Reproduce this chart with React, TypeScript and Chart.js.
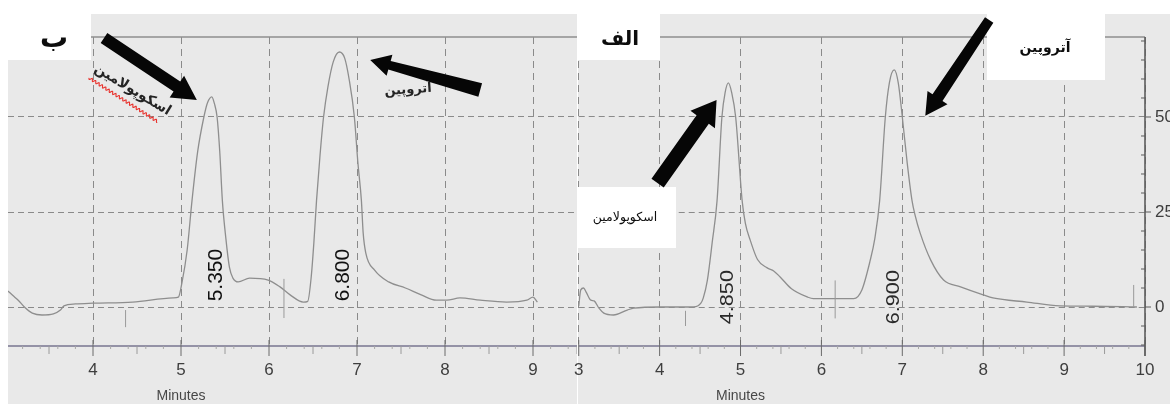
import React, { useEffect, useRef } from "react";
import { Chart, registerables } from "chart.js";

Chart.register(...registerables);

// Shared axes of both runs
const responseRange = [-10.26, 71.05];
const responseTicks = [0, 25, 50];

// Run ب (left panel): retention time in minutes vs detector response
const timeRangeB = [3.034, 9.5];
const minuteTicksB = [4, 5, 6, 7, 8, 9];
const timeB = [
  3.034, 3.09, 3.15, 3.22, 3.31, 3.42, 3.55, 3.63, 3.67, 3.8, 4.0, 4.45, 4.91, 4.97,
  5.01, 5.07, 5.125, 5.19, 5.26, 5.3, 5.35, 5.38, 5.41, 5.44, 5.47, 5.51, 5.55, 5.59, 5.65, 5.78, 5.99, 6.125, 6.24, 6.39,
  6.44, 6.48, 6.51, 6.54, 6.58, 6.62, 6.67, 6.73, 6.8, 6.86, 6.91, 6.97, 7.01, 7.05, 7.07, 7.1, 7.2, 7.36, 7.55, 7.73,
  7.9, 8.02, 8.17, 8.4, 8.7, 8.93, 9.0, 9.05,
];
const signalB = [
  4.2, 3.0, 1.8, 0.0, -1.6, -2.1, -1.8, -0.8, 0.3, 0.8, 1.0, 1.3, 2.4, 2.6,
  6.3, 15, 28, 41, 50, 53.7, 55.3, 53.5, 50, 41, 28, 18, 10.5, 7.6, 6.6, 7.6, 7.1, 5.3, 3.2, 1.3,
  1.5, 8, 17, 28, 40, 50, 58, 64.5, 67.1, 65.5, 60, 50, 38, 28, 19.5, 14.2, 9.7, 6.6, 5.0, 3.2,
  1.8, 1.8, 2.4, 1.8, 1.3, 1.8, 2.6, 1.3,
];
const peakTimeB = [5.35, 6.8];
const peakLabelB = ["5.350", "6.800"];
const eventTimeB = [4.37, 6.17];
const eventTopB = [-0.8, 7.4];
const eventBottomB = [-5.3, -2.9];

// Run الف (right panel)
const timeRangeA = [3, 10];
const minuteTicksA = [3, 4, 5, 6, 7, 8, 9, 10];
const timeA = [
  3.0, 3.025, 3.06, 3.09, 3.15, 3.19, 3.25, 3.31, 3.43, 3.6, 3.68, 4.01, 4.42, 4.51, 4.54,
  4.59, 4.65, 4.71, 4.77, 4.81, 4.85, 4.89, 4.94, 5.02, 5.06, 5.12, 5.21, 5.33, 5.41, 5.49, 5.63, 5.83, 5.9,
  6.4, 6.5, 6.6, 6.66, 6.72, 6.79, 6.84, 6.9, 6.95, 7.0, 7.06, 7.12, 7.16, 7.22, 7.35, 7.51, 7.72,
  8.0, 8.12, 8.54, 8.95, 9.36, 9.9,
];
const signalA = [
  0.3, 4.5, 5.0, 4.0, 1.8, 1.6, -0.3, -1.6, -2.1, -0.8, -0.3, 0.0, 0.0, 1.0, 2.4,
  7, 17, 28, 50, 56.5, 59, 56.5, 50, 28, 22, 17.6, 12.5, 10.3, 9.5, 7.9, 4.8, 2.6, 2.2,
  2.2, 4.5, 12, 18, 28, 50, 59, 62.4, 59, 50, 38, 28, 24, 19.5, 12.4, 7.1, 5.3,
  3.2, 2.4, 1.3, 0.3, 0.2, 0.0,
];
const peakTimeA = [4.85, 6.9];
const peakLabelA = ["4.850", "6.900"];
const eventTimeA = [4.32, 6.17, 9.86];
const eventTopA = [-1, 7, 5.8];
const eventBottomA = [-5, -3, 0];

const SHEET = "#e9e9e9";
const GRID = "#8a8a8a";
const AXIS = "#77758f";
const PERSIAN = '"DejaVu Sans", "Noto Sans", sans-serif';

type Pt = [number, number];
type Box = { x: number; y: number; w: number; h: number; text: string; font: string; tx: number; ty: number };
type Arrow = { from: Pt; to: Pt; tail: number; neck: number; head: number; headLen: number };
type Tag = { at: Pt; text: string; font: string; angle: number };

type Sheet = {
  id: string;
  offsetX: number; // page x of the canvas
  sheetLeft: number;
  sheetRight: number;
  rightAxis: boolean;
  peakTimes: number[];
  peakLabels: string[];
  peakLevel: number;
  peakShift: number;
  peakFont: string;
  peakStretch: number;
  peakColor: string;
  events: { t: number[]; top: number[]; bottom: number[] };
  boxes: Box[]; // page coordinates, ty is the text baseline
  tags: Tag[]; // data coordinates
  arrows: Arrow[]; // data coordinates
  squiggle?: { from: Pt; to: Pt };
};

function drawArrow(ctx: CanvasRenderingContext2D, x1: number, y1: number, x2: number, y2: number, a: Arrow) {
  const len = Math.hypot(x2 - x1, y2 - y1);
  const ux = (x2 - x1) / len;
  const uy = (y2 - y1) / len;
  const nx = -uy;
  const ny = ux;
  const bx = x2 - ux * a.headLen;
  const by = y2 - uy * a.headLen;
  ctx.beginPath();
  ctx.moveTo(x1 + (nx * a.tail) / 2, y1 + (ny * a.tail) / 2);
  ctx.lineTo(bx + (nx * a.neck) / 2, by + (ny * a.neck) / 2);
  ctx.lineTo(bx + (nx * a.head) / 2, by + (ny * a.head) / 2);
  ctx.lineTo(x2, y2);
  ctx.lineTo(bx - (nx * a.head) / 2, by - (ny * a.head) / 2);
  ctx.lineTo(bx - (nx * a.neck) / 2, by - (ny * a.neck) / 2);
  ctx.lineTo(x1 - (nx * a.tail) / 2, y1 - (ny * a.tail) / 2);
  ctx.closePath();
  ctx.fill();
}

function sheetPlugin(s: Sheet) {
  return {
    id: s.id,
    beforeDraw(chart: any) {
      const { ctx, height } = chart;
      ctx.save();
      ctx.fillStyle = SHEET;
      ctx.fillRect(s.sheetLeft, 14, s.sheetRight - s.sheetLeft, height - 14);
      ctx.restore();
    },
    afterDraw(chart: any) {
      const { ctx, chartArea: a } = chart;
      const xs = chart.scales.x;
      const ys = chart.scales.y;
      const X = (t: number) => xs.getPixelForValue(t);
      const Y = (v: number) => ys.getPixelForValue(v);
      const line = (x1: number, y1: number, x2: number, y2: number) => {
        ctx.beginPath();
        ctx.moveTo(x1, y1);
        ctx.lineTo(x2, y2);
        ctx.stroke();
      };
      ctx.save();

      // frame top
      ctx.strokeStyle = "#8e8e8e";
      ctx.lineWidth = 1.6;
      line(a.left, a.top, a.right, a.top);

      // time axis with minute / half / fifth ticks
      ctx.strokeStyle = AXIS;
      ctx.lineWidth = 1.6;
      line(a.left, a.bottom, a.right, a.bottom);
      ctx.lineWidth = 1;
      for (let k = Math.ceil(xs.min * 10); k <= Math.floor(xs.max * 10); k++) {
        const px = X(k / 10);
        if (k % 10 === 0) {
          ctx.strokeStyle = "#6a6a6a";
          line(px, a.bottom - 6, px, a.bottom + 10);
        } else if (k % 5 === 0) {
          ctx.strokeStyle = "#9a9a9a";
          line(px, a.bottom, px, a.bottom + 8);
        } else if (k % 2 === 0) {
          ctx.strokeStyle = "#a8a8a8";
          line(px, a.bottom, px, a.bottom + 3);
        }
      }

      // response axis
      if (s.rightAxis) {
        ctx.strokeStyle = "#5c5c5c";
        ctx.lineWidth = 1.6;
        line(a.right, a.top, a.right, a.bottom + 10);
        ctx.lineWidth = 1;
        for (let v = -10; v <= 70; v += 5) {
          const py = Y(v);
          if (v % 25 === 0) line(a.right, py, a.right + 6, py);
          else line(a.right - 4, py, a.right, py);
        }
      }

      // integration event marks on the baseline
      ctx.strokeStyle = "#9a9a9a";
      ctx.lineWidth = 1;
      s.events.t.forEach((t, i) => line(X(t), Y(s.events.top[i]), X(t), Y(s.events.bottom[i])));

      // retention-time labels
      ctx.fillStyle = s.peakColor;
      ctx.font = s.peakFont;
      ctx.textAlign = "center";
      ctx.textBaseline = "middle";
      s.peakTimes.forEach((t, i) => {
        ctx.save();
        ctx.translate(X(t) + s.peakShift, Y(s.peakLevel));
        ctx.rotate(-Math.PI / 2);
        ctx.scale(s.peakStretch, 1);
        ctx.fillText(s.peakLabels[i], 0, 0);
        ctx.restore();
      });

      // x caption
      ctx.fillStyle = "#474747";
      ctx.font = '14px "Liberation Sans", Arial, sans-serif';
      ctx.textBaseline = "alphabetic";
      ctx.fillText("Minutes", X(5), 400);

      // white label boxes
      ctx.direction = "rtl";
      s.boxes.forEach((b) => {
        ctx.fillStyle = "#ffffff";
        ctx.fillRect(b.x - s.offsetX, b.y, b.w, b.h);
        ctx.fillStyle = "#0d0d0d";
        ctx.font = b.font;
        ctx.textAlign = "center";
        ctx.textBaseline = "alphabetic";
        ctx.fillText(b.text, b.tx - s.offsetX, b.ty);
      });

      // compound names written on the sheet
      s.tags.forEach((g) => {
        ctx.save();
        ctx.translate(X(g.at[0]), Y(g.at[1]));
        ctx.rotate((g.angle * Math.PI) / 180);
        ctx.fillStyle = "#242424";
        ctx.font = g.font;
        ctx.textAlign = "center";
        ctx.textBaseline = "middle";
        ctx.fillText(g.text, 0, 0);
        ctx.restore();
      });

      if (s.squiggle) {
        const x1 = X(s.squiggle.from[0]);
        const y1 = Y(s.squiggle.from[1]);
        const x2 = X(s.squiggle.to[0]);
        const y2 = Y(s.squiggle.to[1]);
        const len = Math.hypot(x2 - x1, y2 - y1);
        const ux = (x2 - x1) / len;
        const uy = (y2 - y1) / len;
        ctx.strokeStyle = "#e8332e";
        ctx.lineWidth = 1.1;
        ctx.beginPath();
        for (let d = 0; d <= len; d += 0.5) {
          const w = 1.3 * Math.sin((d * Math.PI) / 2);
          const px = x1 + ux * d - uy * w;
          const py = y1 + uy * d + ux * w;
          if (d === 0) ctx.moveTo(px, py);
          else ctx.lineTo(px, py);
        }
        ctx.stroke();
      }

      // arrows
      ctx.fillStyle = "#060606";
      s.arrows.forEach((ar) => drawArrow(ctx, X(ar.from[0]), Y(ar.from[1]), X(ar.to[0]), Y(ar.to[1]), ar));

      ctx.restore();
    },
  };
}

const sheetB: Sheet = {
  id: "sheetB",
  offsetX: 0,
  sheetLeft: 8,
  sheetRight: 577,
  rightAxis: false,
  peakTimes: peakTimeB,
  peakLabels: peakLabelB,
  peakLevel: 8.4,
  peakShift: 4,
  peakFont: '21px "Liberation Sans", Arial, sans-serif',
  peakStretch: 1,
  peakColor: "#111111",
  events: { t: eventTimeB, top: eventTopB, bottom: eventBottomB },
  boxes: [{ x: 8, y: 14, w: 83, h: 46, text: "ب", font: `bold 28px ${PERSIAN}`, tx: 54, ty: 47 }],
  tags: [
    { at: [4.45, 57.1], text: "اسکوپولامین", font: `bold 14px ${PERSIAN}`, angle: 31 },
    { at: [7.58, 57.1], text: "آتروپین", font: `bold 13px ${PERSIAN}`, angle: -4 },
  ],
  arrows: [
    { from: [4.125, 70.8], to: [5.18, 54.5], tail: 12, neck: 12, head: 26, headLen: 24 },
    { from: [8.4, 57.1], to: [7.15, 65.0], tail: 14, neck: 9, head: 22, headLen: 20 },
  ],
  squiggle: { from: [3.955, 60.3], to: [4.74, 48.7] },
};

const sheetA: Sheet = {
  id: "sheetA",
  offsetX: 560,
  sheetLeft: 18,
  sheetRight: 610,
  rightAxis: true,
  peakTimes: peakTimeA,
  peakLabels: peakLabelA,
  peakLevel: 2.6,
  peakShift: 0,
  peakFont: '18px "Liberation Sans", Arial, sans-serif',
  peakStretch: 1.2,
  peakColor: "#2a2a2a",
  events: { t: eventTimeA, top: eventTopA, bottom: eventBottomA },
  boxes: [
    { x: 578, y: 14, w: 82, h: 46, text: "الف", font: `bold 20px ${PERSIAN}`, tx: 620, ty: 45 },
    { x: 987, y: 14, w: 118, h: 66, text: "آتروپین", font: `bold 14px ${PERSIAN}`, tx: 1045, ty: 52 },
    { x: 577, y: 187, w: 99, h: 61, text: "اسکوپولامین", font: `12.5px ${PERSIAN}`, tx: 625, ty: 221 },
  ],
  tags: [],
  arrows: [
    { from: [3.975, 32.6], to: [4.704, 54.5], tail: 15, neck: 15, head: 30, headLen: 24 },
    { from: [8.074, 75.5], to: [7.284, 50.3], tail: 10, neck: 12, head: 24, headLen: 22 },
  ],
};

function buildChart(
  canvas: HTMLCanvasElement,
  times: number[],
  signal: number[],
  range: number[],
  minuteTicks: number[],
  padLeft: number,
  sheet: Sheet
) {
  const tickFont = { family: '"Liberation Sans", Arial, sans-serif', size: 17 };
  return new Chart(canvas, {
    type: "line",
    data: {
      datasets: [
        {
          data: times.map((t, i) => ({ x: t, y: signal[i] })),
          borderColor: "#8e8e8e",
          borderWidth: 1.3,
          pointRadius: 0,
          cubicInterpolationMode: "monotone",
          fill: false,
        },
      ],
    },
    options: {
      responsive: false,
      animation: false,
      devicePixelRatio: 1,
      layout: { padding: { left: padLeft, top: 37, right: 0, bottom: 0 } },
      plugins: { legend: { display: false }, tooltip: { enabled: false }, title: { display: false } },
      scales: {
        x: {
          type: "linear",
          min: range[0],
          max: range[1],
          afterBuildTicks: (sc: any) => {
            sc.ticks = minuteTicks.map((v) => ({ value: v }));
          },
          afterFit: (sc: any) => {
            sc.height = 58;
          },
          grid: { color: GRID, lineWidth: 1, drawTicks: false },
          border: { display: false, dash: [7, 5] },
          ticks: {
            padding: 14,
            color: "#3e3e3e",
            font: tickFont,
            maxRotation: 0,
            autoSkip: false,
            callback: (v: any) => String(v),
          },
        },
        y: {
          type: "linear",
          position: sheet.rightAxis ? "right" : "left",
          min: responseRange[0],
          max: responseRange[1],
          afterBuildTicks: (sc: any) => {
            sc.ticks = responseTicks.map((v) => ({ value: v }));
          },
          afterFit: (sc: any) => {
            sc.width = sheet.rightAxis ? 25 : 0;
          },
          grid: { color: GRID, lineWidth: 1, drawTicks: false },
          border: { display: false, dash: [6, 4] },
          ticks: {
            display: sheet.rightAxis,
            padding: 10,
            color: "#3e3e3e",
            font: tickFont,
            callback: (v: any) => String(v),
          },
        },
      },
    } as any,
    plugins: [sheetPlugin(sheet)],
  });
}

export default function App() {
  const leftRef = useRef<HTMLCanvasElement>(null);
  const rightRef = useRef<HTMLCanvasElement>(null);

  useEffect(() => {
    const left = buildChart(leftRef.current!, timeB, signalB, timeRangeB, minuteTicksB, 8, sheetB);
    const right = buildChart(rightRef.current!, timeA, signalA, timeRangeA, minuteTicksA, 18, sheetA);
    return () => {
      left.destroy();
      right.destroy();
    };
  }, []);

  return (
    <div style={{ position: "fixed", left: 0, top: 0, width: 1170, height: 404, background: "#ffffff", overflow: "hidden" }}>
      <canvas ref={leftRef} width={577} height={404} style={{ position: "absolute", left: 0, top: 0, display: "block" }} />
      <canvas ref={rightRef} width={610} height={404} style={{ position: "absolute", left: 560, top: 0, display: "block" }} />
    </div>
  );
}
